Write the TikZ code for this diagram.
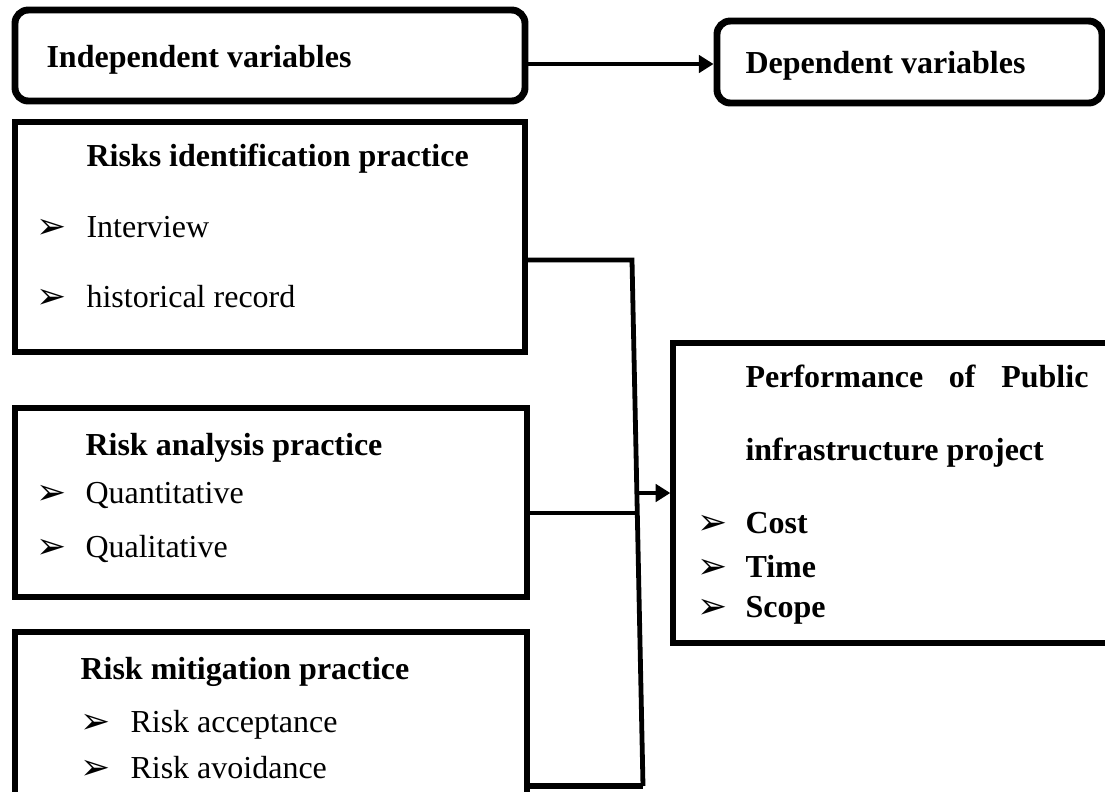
\documentclass[tikz,border=0pt]{standalone}
\usepackage{fontspec}
\setmainfont{Liberation Serif}
\newfontfamily\dingfont{DejaVu Sans}
\usetikzlibrary{positioning,arrows.meta,fit}
\newcommand{\txtsize}{\fontsize{12}{14.4}\selectfont}
\newcommand{\bul}{➢}
\tikzset{
  var-box/.style={draw=black,line width=2.6pt,rounded corners=5pt,inner sep=0pt},
  prac-box/.style={draw=black,line width=2pt,inner sep=0pt},
  head/.style={anchor=base west,inner sep=0pt,font=\txtsize\bfseries},
  item/.style={anchor=base west,inner sep=0pt,font=\txtsize},
  bull/.style={anchor=base west,inner sep=0pt,font=\dingfont\fontsize{13.5}{15}\selectfont},
  link/.style={line width=1.8pt,draw=black},
  arrow/.style={-{Triangle[length=5.5pt,width=6.5pt]},line width=1.8pt,draw=black},
}

\begin{document}
\begin{tikzpicture}[x=0.375pt,y=-0.375pt]
  \clip (0,0) rectangle (1105,791);
  \fill[white] (0,0) rectangle (1105,791);

  % variable headers
  \node[var-box,fit={(15,10) (525,101)}] (indep) {};
  \node[var-box,fit={(717,21) (1102,103)}] (dep) {};
  \node[head] (t-indep) at (46,67) {Independent variables};
  \node[head] (t-dep) at (745,73) {Dependent variables};

  % practice boxes
  \node[prac-box,fit={(15,122) (525,352)}] (ident) {};
  \node[head] (t-ident) at (86,166) {Risks identification practice};
  \node[bull] (b-ident1) at (36,238) {\bul};
  \node[item] (i-ident1) at (86,237) {Interview};
  \node[bull] (b-ident2) at (36,308) {\bul};
  \node[item] (i-ident2) at (86,307) {historical record};

  \node[prac-box,fit={(15,408) (527,597)}] (anal) {};
  \node[head] (t-anal) at (85,455) {Risk analysis practice};
  \node[bull] (b-anal1) at (36,504) {\bul};
  \node[item] (i-anal1) at (85,503) {Quantitative};
  \node[bull] (b-anal2) at (36,558) {\bul};
  \node[item] (i-anal2) at (85,557) {Qualitative};

  \node[prac-box,fit={(15,632) (527,830)}] (mitig) {};
  \node[head] (t-mitig) at (80,679) {Risk mitigation practice};
  \node[bull] (b-mitig1) at (80,733) {\bul};
  \node[item] (i-mitig1) at (130,732) {Risk acceptance};
  \node[bull] (b-mitig2) at (80,779) {\bul};
  \node[item] (i-mitig2) at (130,778) {Risk avoidance};

  % outcome box
  \node[prac-box,fit={(673,343) (1130,643)}] (perf) {};
  \node[head] (t-perf1) at (745,387) {\makebox[128.6pt][s]{Performance of Public}};
  \node[head] (t-perf2) at (745,460) {infrastructure project};
  \node[bull] (b-perf1) at (697,534) {\bul};
  \node[head] (i-perf1) at (745,533) {Cost};
  \node[bull] (b-perf2) at (697,578) {\bul};
  \node[head] (i-perf2) at (745,577) {Time};
  \node[bull] (b-perf3) at (697,618) {\bul};
  \node[head] (i-perf3) at (745,617) {Scope};

  % connectors
  \coordinate (a0) at (600,64);
  \coordinate (j1) at (632,260);
  \coordinate (j2) at (643,786);
  \coordinate (j3) at (637,513);
  \coordinate (j4) at (636,493);
  \draw[arrow] (indep.east |- a0) -- (dep.west |- a0);
  \draw[link] (ident.east |- j1) -- (j1) -- (j2);
  \draw[link] (anal.east |- j3) -- (j3);
  \draw[link,line width=2.6pt] (mitig.east |- j2) -- (j2);
  \draw[arrow] (j4) -- (perf.west |- j4);
\end{tikzpicture}
\end{document}
